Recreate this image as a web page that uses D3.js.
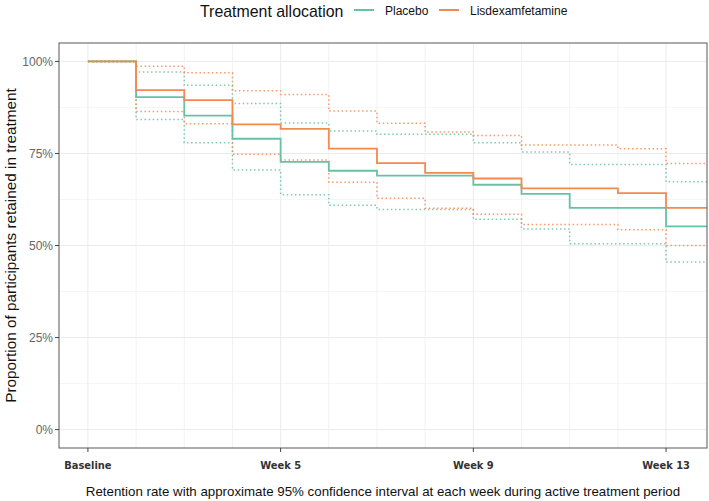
<!DOCTYPE html>
<html>
<head>
<meta charset="utf-8">
<script src="https://cdn.jsdelivr.net/npm/d3@7"></script>
<style>
  body { margin: 0; background: #fff; }
  svg { display: block; font-family: "Liberation Sans", Arial, sans-serif; }
</style>
</head>
<body>
<div id="chart-area"></div>
<script>
// weeks 1..13 (week 1 = Baseline); value holds from that week to the next
const weeks = [1, 2, 3, 4, 5, 6, 7, 8, 9, 10, 11, 12, 13];
const placebo      = [100, 90.3, 85.3, 79.0, 72.7, 70.3, 69.0, 69.0, 66.5, 64.0, 60.2, 60.2, 55.2];
const placeboLow   = [100, 84.2, 77.9, 70.5, 63.8, 60.9, 59.8, 59.8, 57.1, 54.5, 50.5, 50.5, 45.5];
const placeboHigh  = [100, 97.1, 93.5, 88.6, 83.3, 81.1, 80.2, 80.2, 77.9, 75.4, 72.0, 72.0, 67.3];
const lisdex       = [100, 92.2, 89.5, 82.9, 81.7, 76.3, 72.4, 69.7, 68.2, 65.5, 65.5, 64.2, 60.2];
const lisdexLow    = [100, 86.4, 83.1, 74.8, 73.2, 67.2, 62.8, 60.1, 58.5, 55.7, 55.7, 54.3, 50.0];
const lisdexHigh   = [100, 98.7, 96.9, 92.0, 91.0, 86.5, 83.2, 80.8, 79.9, 77.3, 77.3, 76.3, 72.3];
const xTicks = [1, 5, 9, 13];
const xTickLabels = ["Baseline", "Week 5", "Week 9", "Week 13"];
const yTicks = [0, 25, 50, 75, 100];

const green = "#66c2a5";
const orange = "#f4894f";

const width = 709, height = 501;
const pLeft = 59, pRight = 707, pTop = 43, pBottom = 448;

const svg = d3.select("#chart-area")
  .append("svg")
  .attr("width", width)
  .attr("height", height);

const x = d3.scaleLinear().domain([0.4, 13.85]).range([pLeft, pRight]);
const y = d3.scaleLinear().domain([-5, 105]).range([pBottom, pTop]);

// grid
const grid = svg.append("g");
const minorY = [12.5, 37.5, 62.5, 87.5];
grid.selectAll(".gy").data(yTicks).enter().append("line")
  .attr("x1", pLeft).attr("x2", pRight)
  .attr("y1", d => y(d)).attr("y2", d => y(d))
  .attr("stroke", "#ebebeb").attr("stroke-width", 1);
grid.selectAll(".gym").data(minorY).enter().append("line")
  .attr("x1", pLeft).attr("x2", pRight)
  .attr("y1", d => y(d)).attr("y2", d => y(d))
  .attr("stroke", "#f4f4f4").attr("stroke-width", 0.8);
grid.selectAll(".gx").data(weeks).enter().append("line")
  .attr("x1", d => x(d)).attr("x2", d => x(d))
  .attr("y1", pTop).attr("y2", pBottom)
  .attr("stroke", d => xTicks.includes(d) ? "#ebebeb" : "#f2f2f2")
  .attr("stroke-width", 1);

// step lines
const line = d3.line()
  .x(d => x(d[0]))
  .y(d => y(d[1]))
  .curve(d3.curveStepAfter);

function pts(vals) {
  const p = weeks.map((w, i) => [w, vals[i]]);
  p.push([x.domain()[1], vals[vals.length - 1]]);
  return p;
}

const series = [
  { vals: placeboLow, color: green, dotted: true },
  { vals: placeboHigh, color: green, dotted: true },
  { vals: lisdexLow, color: orange, dotted: true },
  { vals: lisdexHigh, color: orange, dotted: true },
  { vals: placebo, color: green, dotted: false },
  { vals: lisdex, color: orange, dotted: false }
];

svg.append("g").selectAll("path").data(series).enter().append("path")
  .attr("d", d => line(pts(d.vals)))
  .attr("fill", "none")
  .attr("stroke", d => d.color)
  .attr("stroke-width", d => d.dotted ? 1.5 : 1.8)
  .attr("stroke-dasharray", d => d.dotted ? "1.5,2.6" : null)
  .attr("opacity", d => d.dotted ? 0.85 : 1);

// panel border
svg.append("rect")
  .attr("x", pLeft).attr("y", pTop)
  .attr("width", pRight - pLeft).attr("height", pBottom - pTop)
  .attr("fill", "none").attr("stroke", "#666").attr("stroke-width", 1.1);

// y axis
const yAxis = svg.append("g");
yAxis.selectAll("line").data(yTicks).enter().append("line")
  .attr("x1", pLeft - 4).attr("x2", pLeft)
  .attr("y1", d => y(d)).attr("y2", d => y(d))
  .attr("stroke", "#444");
yAxis.selectAll("text").data(yTicks).enter().append("text")
  .attr("x", pLeft - 6).attr("y", d => y(d))
  .attr("dy", "0.35em").attr("text-anchor", "end")
  .attr("font-size", 12).attr("fill", "#666")
  .text(d => d + "%");

// x axis
const xAxis = svg.append("g");
xAxis.selectAll("line").data(xTicks).enter().append("line")
  .attr("x1", d => x(d)).attr("x2", d => x(d))
  .attr("y1", pBottom).attr("y2", pBottom + 4)
  .attr("stroke", "#444");
xAxis.selectAll("text").data(xTicks).enter().append("text")
  .attr("x", d => x(d)).attr("y", 469)
  .attr("text-anchor", "middle")
  .attr("font-family", "'DejaVu Sans Condensed', 'Liberation Sans Narrow', sans-serif")
  .attr("font-weight", "bold")
  .attr("font-size", 11).attr("fill", "#333")
  .text((d, i) => xTickLabels[i]);

// titles
svg.append("text")
  .attr("x", 383).attr("y", 496)
  .attr("text-anchor", "middle")
  .attr("font-size", 13.3).attr("fill", "#111")
  .text("Retention rate with approximate 95% confidence interval at each week during active treatment period");

svg.append("text")
  .attr("transform", `translate(16,${(pTop + pBottom) / 2}) rotate(-90)`)
  .attr("text-anchor", "middle")
  .attr("font-size", 15.3).attr("fill", "#111")
  .text("Proportion of participants retained in treatment");

// legend
const legend = svg.append("g");
legend.append("text")
  .attr("x", 200).attr("y", 16.5)
  .attr("font-size", 15.9).attr("fill", "#111")
  .text("Treatment allocation");
const legendItems = [
  { label: "Placebo", color: green, lx: 354, tx: 385 },
  { label: "Lisdexamfetamine", color: orange, lx: 439, tx: 470 }
];
legendItems.forEach(d => {
  legend.append("line")
    .attr("x1", d.lx).attr("x2", d.lx + 20)
    .attr("y1", 10).attr("y2", 10)
    .attr("stroke", d.color).attr("stroke-width", 2);
  legend.append("text")
    .attr("x", d.tx).attr("y", 14.5)
    .attr("font-size", 12).attr("fill", "#111")
    .text(d.label);
});
</script>
</body>
</html>
